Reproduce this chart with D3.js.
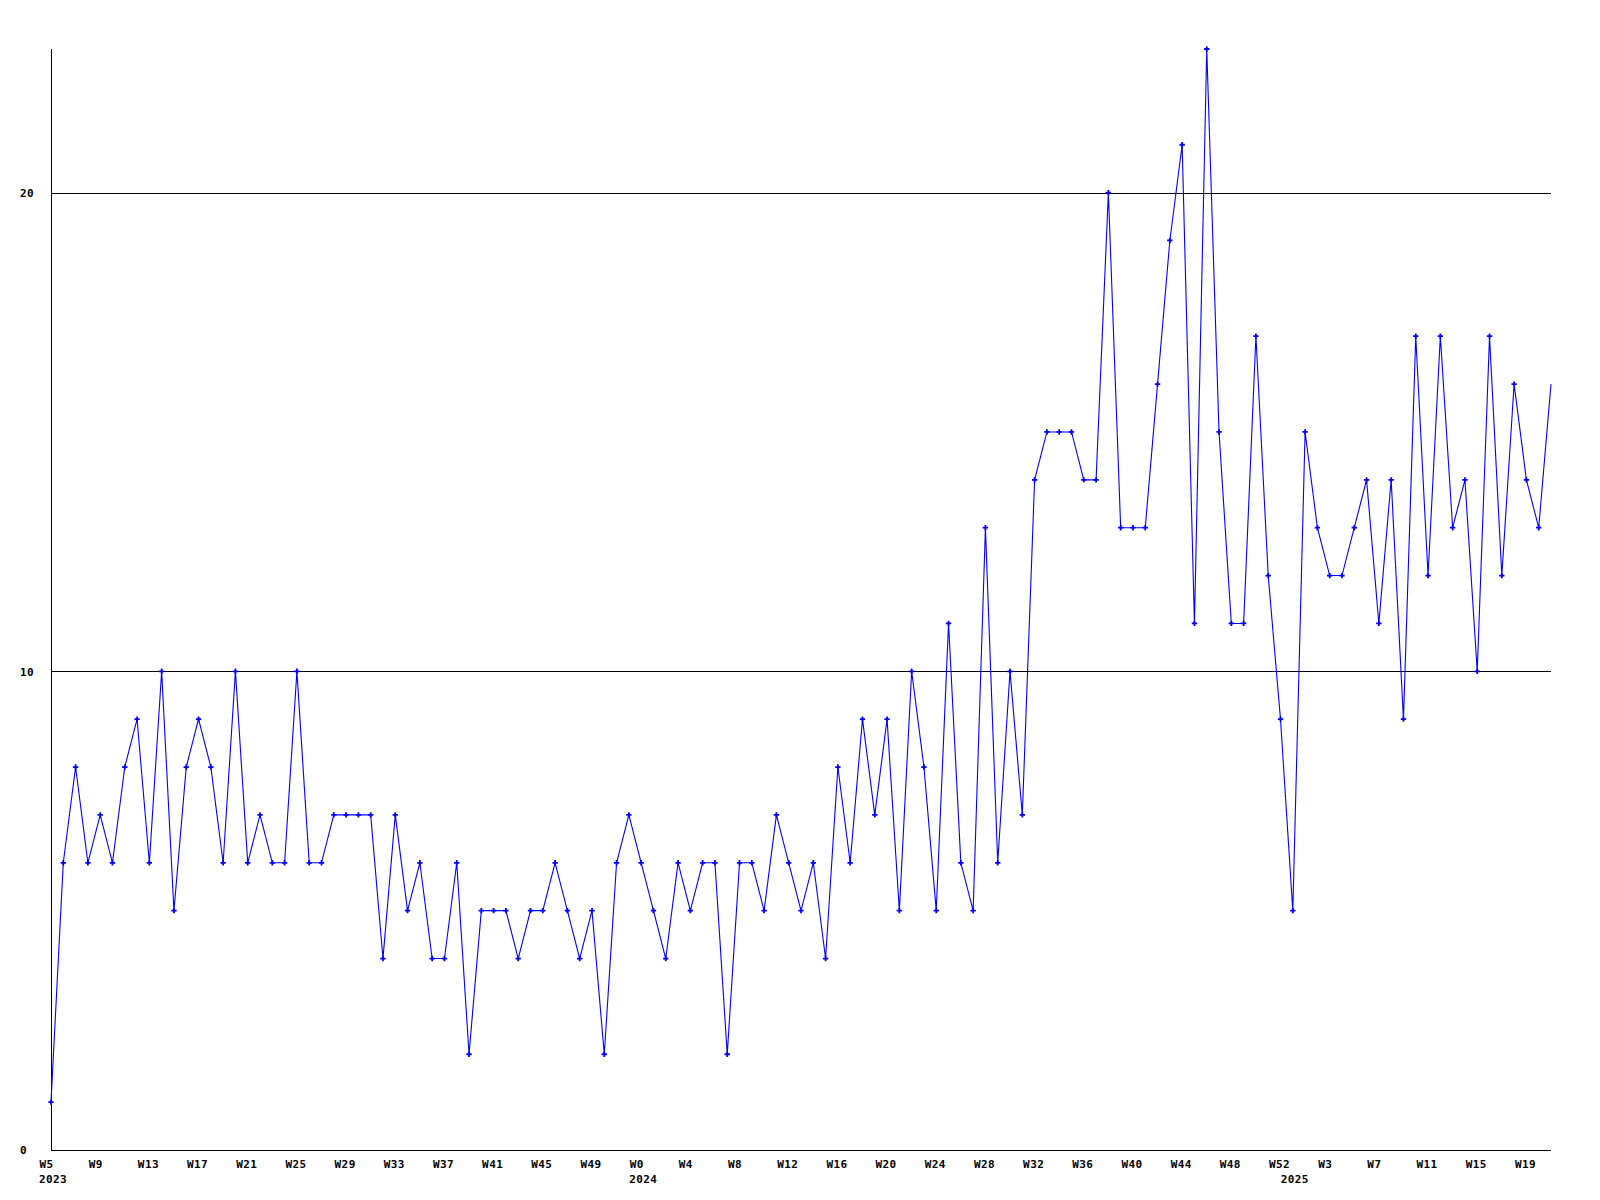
<!DOCTYPE html>
<html>
<head>
<meta charset="utf-8">
<script src="https://cdn.jsdelivr.net/npm/d3@7"></script>
<style>
  html, body { margin: 0; padding: 0; background: #ffffff; }
  svg { display: block; }
  text { font-family: "DejaVu Sans Mono", "Liberation Mono", monospace; font-weight: bold; font-size: 11px; letter-spacing: 0.4px; fill: #000; }
</style>
</head>
<body>
<svg id="chart" width="1600" height="1200"></svg>
<script>
// ---- data ----
const years = ["2023", "2024", "2025"];
const firstWeek = [5, 0, 0];
const lastWeek = [52, 52, 21];

const values = [
  1, 6, 8, 6, 7, 6, 8, 9, 6, 10,
  5, 8, 9, 8, 6, 10, 6, 7, 6, 6,
  10, 6, 6, 7, 7, 7, 7, 4, 7, 5,
  6, 4, 4, 6, 2, 5, 5, 5, 4, 5,
  5, 6, 5, 4, 5, 2, 6, 7, 6, 5,
  4, 6, 5, 6, 6, 2, 6, 6, 5, 7,
  6, 5, 6, 4, 8, 6, 9, 7, 9, 5,
  10, 8, 5, 11, 6, 5, 13, 6, 10, 7,
  14, 15, 15, 15, 14, 14, 20, 13, 13, 13,
  16, 19, 21, 11, 23, 15, 11, 11, 17, 12,
  9, 5, 15, 13, 12, 12, 13, 14, 11, 14,
  9, 17, 12, 17, 13, 14, 10, 17, 12, 16,
  14, 13, 16
];

const tickLabels = [
  "W5", "W9", "W13", "W17", "W21", "W25", "W29", "W33", "W37", "W41", "W45", "W49",
  "W0", "W4", "W8", "W12", "W16", "W20", "W24", "W28", "W32", "W36", "W40", "W44", "W48", "W52",
  "W3", "W7", "W11", "W15", "W19"
];
const yTickValues = [0, 10, 20];
const yMax = 23;

// categories: one per week, "year-Wn"
const categories = [];
years.forEach((yr, i) => {
  for (let w = firstWeek[i]; w <= lastWeek[i]; w++) categories.push(yr + "-W" + w);
});
const data = categories.map((c, i) => ({ cat: c, value: values[i] }));
const tickCats = categories.filter((c, i) => i % 4 === 0);
const tickText = new Map(tickCats.map((c, i) => [c, tickLabels[i]]));
const yearStartCats = years.map((yr, i) => yr + "-W" + firstWeek[i]);

// ---- layout ----
const mLeft = 51, mRight = 1551, mTop = 49, mBottom = 1150;
const svg = d3.select("#chart");

const x = d3.scalePoint().domain(categories).range([mLeft, mRight]).padding(0);
const y = d3.scaleLinear().domain([0, yMax]).range([mBottom, mTop]);

// grid lines
svg.append("g")
  .selectAll("line")
  .data(yTickValues.filter(v => v > 0))
  .join("line")
  .attr("x1", mLeft).attr("x2", mRight)
  .attr("y1", d => Math.round(y(d)) + 0.5).attr("y2", d => Math.round(y(d)) + 0.5)
  .attr("stroke", "#000").attr("stroke-width", 1)
  .attr("shape-rendering", "crispEdges");

// y axis
const yAxis = d3.axisLeft(y).tickValues(yTickValues).tickSize(0).tickPadding(0).tickFormat(d3.format("d"));
const gy = svg.append("g").attr("transform", `translate(${mLeft + 0.5},0)`).call(yAxis);
gy.select(".domain").attr("stroke", "#000").attr("shape-rendering", "crispEdges")
  .attr("d", `M0,${mTop}V${mBottom + 0.5}`);
gy.attr("font-family", null).attr("font-size", null);
gy.selectAll(".tick text")
  .attr("x", 20 - (mLeft + 0.5))
  .attr("text-anchor", "start")
  .attr("dy", "0.35em");

// x axis
const xAxis = d3.axisBottom(x).tickValues(tickCats).tickSize(0).tickPadding(0).tickFormat(c => tickText.get(c));
const gx = svg.append("g").attr("transform", `translate(0,${mBottom + 0.5})`).call(xAxis);
gx.select(".domain").attr("stroke", "#000").attr("shape-rendering", "crispEdges")
  .attr("d", `M${mLeft},0H${mRight}`);
gx.attr("font-family", null).attr("font-size", null);
gx.selectAll(".tick text")
  .attr("text-anchor", "start")
  .attr("dx", -12)
  .attr("y", 17)
  .attr("dy", 0);

// year labels
svg.append("g")
  .selectAll("text")
  .data(yearStartCats)
  .join("text")
  .attr("x", d => x(d) - 12)
  .attr("y", mBottom + 32.5)
  .text(d => d.split("-")[0]);

// line
const line = d3.line().x(d => x(d.cat)).y(d => y(d.value));
svg.append("path")
  .datum(data)
  .attr("d", line)
  .attr("fill", "none")
  .attr("stroke", "#0000ff")
  .attr("stroke-width", 1.1);

// markers (last point sits on the frame edge and shows no marker)
const sym = d3.symbol(d3.symbolCross, 16);
svg.append("g")
  .selectAll("path")
  .data(data.slice(0, data.length - 1))
  .join("path")
  .attr("transform", d => `translate(${x(d.cat)},${y(d.value)})`)
  .attr("d", sym)
  .attr("fill", "#0000ff");
</script>
</body>
</html>
